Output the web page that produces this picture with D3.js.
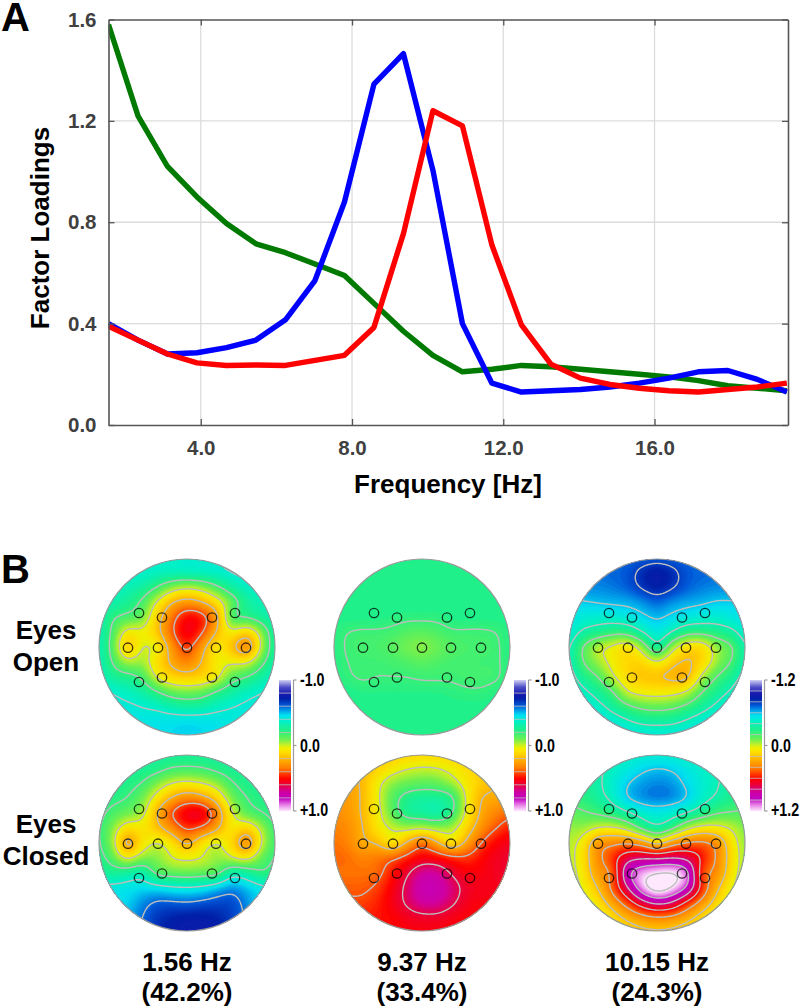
<!DOCTYPE html>
<html><head><meta charset="utf-8">
<script src="https://d3js.org/d3.v7.min.js"></script>
<style>html,body{margin:0;padding:0;background:#fff}svg{display:block}text{font-family:"Liberation Sans",Arial,sans-serif;font-weight:bold}</style>
</head><body><svg id="c" width="800" height="1008"></svg>
<script>
const frequencies=[1.56,2.34,3.12,3.9,4.68,5.46,6.24,7.02,7.8,8.58,9.36,10.14,10.92,11.7,12.48,13.26,14.04,14.82,15.6,16.38,17.16,17.94,18.72,19.5];
const greenSeries=[1.58,1.22,1.02,.9,.795,.715,.68,.635,.59,.48,.37,.275,.21,.22,.235,.23,.22,.21,.2,.19,.175,.155,.145,.135];
const blueSeries=[.40,.335,.28,.285,.305,.335,.415,.57,.88,1.345,1.465,1.005,.40,.165,.13,.135,.14,.15,.165,.185,.21,.215,.18,.13];
const redSeries=[.39,.335,.28,.245,.235,.237,.235,.255,.275,.385,.755,1.24,1.18,.71,.395,.24,.185,.16,.145,.135,.13,.14,.15,.165];
const xTicks=[4,8,12,16], yTicks=[0,.4,.8,1.2,1.6];
const colorStops=[-1,-.9,-.8,-.72,-.62,-.55,-.47,-.38,-.24,-.1,-.03,.03,.1,.2,.33,.42,.5,.6,.7,.8,.9,1];
const colorValues=["#c8c8f0","#5050c8","#1818b0","#0020a8","#0058d8","#0098e8","#00e0f0","#00f0c8","#20f088","#70f050","#b8f030","#f0f000","#ffdc00","#ffb400","#ff8000","#ff4000","#ff0000","#e80040","#d000a0","#c000c0","#e880e8","#fff0ff"];
// loadings x100 on a 13x13 scalp grid
const eo156=[
[-36,-36,-36,-37,-38,-38,-38,-38,-38,-40,-42,-42,-42],
[-42,-41,-40,-39,-37,-36,-37,-38,-39,-41,-43,-44,-44],
[-42,-38,-34,-30,-20,-8,-3,-7,-18,-30,-37,-41,-44],
[-38,-33,-27,-18,1,19,26,20,7,-12,-28,-34,-38],
[-36,-22,-17,-12,13,34,50,46,24,-18,-22,-29,-36],
[-36,-18,5,3,15,38,54,42,18,3,12,-8,-34],
[-36,-16,16,-1,3,27,44,25,6,17,32,-4,-32],
[-37,-20,-4,-6,9,23,32,19,4,2,2,-16,-35],
[-39,-28,-25,-18,2,11,14,11,4,-14,-20,-30,-39],
[-42,-40,-36,-31,-21,-12,-10,-12,-22,-30,-36,-40,-42],
[-43,-42,-42,-40,-38,-33,-30,-32,-37,-40,-42,-43,-43],
[-43,-43,-44,-44,-45,-46,-47,-46,-45,-43,-43,-43,-43],
[-43,-43,-44,-44,-46,-47,-48,-47,-46,-44,-43,-43,-43]];
const ec156=[
[-28,-28,-28,-28,-28,-28,-28,-28,-28,-28,-28,-28,-28],
[-28,-28,-28,-27,-25,-20,-19,-20,-24,-27,-28,-28,-28],
[-28,-27,-24,-20,-9,0,3,0,-7,-19,-25,-27,-28],
[-25,-23,-20,-11,6,21,30,25,12,-10,-20,-24,-26],
[-24,-17,-11,-5,20,41,54,56,31,1,-14,-20,-25],
[-23,-9,8,6,16,29,43,37,23,5,12,-5,-22],
[-23,-7,27,7,-1,7,23,7,-1,11,31,-1,-20],
[-25,-15,3,-8,-8,0,2,0,-7,-1,4,-13,-22],
[-30,-27,-30,-34,-16,-13,-11,-13,-15,-34,-30,-21,-26],
[-44,-44,-45,-47,-46,-43,-42,-44,-50,-56,-50,-44,-42],
[-46,-46,-48,-56,-62,-62,-61,-63,-65,-65,-56,-46,-42],
[-46,-48,-52,-60,-68,-72,-74,-74,-72,-66,-58,-48,-42],
[-46,-48,-54,-62,-70,-74,-76,-76,-74,-68,-60,-48,-42]];
const eo937=[
[-24,-24,-24,-24,-24,-24,-24,-24,-24,-24,-24,-24,-24],
[-24,-24,-24,-24,-24,-24,-24,-24,-24,-24,-24,-24,-24],
[-24,-24,-24,-24,-24,-24,-24,-24,-24,-24,-24,-24,-24],
[-24,-24,-24,-24,-24,-24,-24,-24,-24,-24,-24,-24,-24],
[-24,-24,-24,-24,-23,-22,-22,-22,-24,-24,-24,-24,-24],
[-23,-20,-19,-19,-18,-15,-14,-16,-19,-19,-19,-20,-24],
[-24,-19,-18,-17,-14,-10,-7,-11,-15,-17,-18,-19,-24],
[-24,-20,-19,-19,-18,-16,-14,-16,-18,-18,-19,-19,-24],
[-24,-21,-19,-20,-20,-20,-19,-19,-19,-18,-18,-19,-24],
[-24,-24,-23,-23,-23,-23,-23,-23,-22,-21,-21,-23,-24],
[-24,-24,-24,-24,-24,-24,-24,-24,-24,-24,-24,-24,-24],
[-24,-24,-24,-24,-24,-24,-24,-24,-24,-24,-24,-24,-24],
[-24,-24,-24,-24,-24,-24,-24,-24,-24,-24,-24,-24,-24]];
const ec937=[
[20,20,18,17,15,13,12,12,13,14,15,17,20],
[22,22,18,13,6,1,-1,0,4,10,14,18,22],
[26,24,19,4,-7,-11,-13,-12,-5,6,14,20,24],
[28,26,19,3,-14,-25,-28,-28,-23,3,21,22,28],
[30,27,19,5,-13,-26,-29,-32,-22,4,23,32,37],
[32,30,21,7,-1,-4,-2,-6,-4,12,29,40,47],
[35,32,22,19,6,22,36,22,7,24,41,51,55],
[37,36,32,34,38,45,52,50,45,43,50,55,57],
[35,35,35,36,47,58,70,70,58,52,52,55,57],
[38,38,38,42,52,63,75,76,66,56,54,54,54],
[42,42,42,46,53,62,70,70,62,54,52,52,52],
[46,46,46,48,50,54,56,56,53,51,50,50,50],
[48,48,48,49,50,52,52,52,52,50,49,49,49]];
const eo1015=[
[-70,-70,-70,-71,-72,-72,-73,-72,-72,-71,-70,-70,-70],
[-70,-70,-71,-73,-75,-84,-90,-84,-75,-73,-71,-70,-70],
[-68,-68,-68,-70,-74,-82,-88,-82,-74,-70,-68,-68,-68],
[-59,-59,-61,-62,-63,-67,-73,-67,-64,-62,-59,-59,-59],
[-55,-50,-48,-49,-51,-57,-62,-57,-52,-49,-48,-52,-56],
[-52,-38,-32,-26,-27,-40,-52,-40,-27,-26,-30,-36,-50],
[-45,-20,-4,3,10,-7,-37,-7,11,11,-8,-18,-42],
[-46,-21,-8,4,13,13,1,15,22,13,-8,-21,-42],
[-50,-32,-21,-3,12,19,20,24,24,-4,-21,-32,-48],
[-57,-45,-34,-22,-1,5,6,5,-2,-20,-32,-43,-55],
[-65,-55,-46,-35,-24,-17,-15,-17,-24,-34,-44,-55,-62],
[-68,-62,-56,-50,-43,-37,-36,-37,-43,-50,-56,-62,-68],
[-70,-66,-62,-58,-55,-53,-52,-53,-55,-58,-62,-66,-70]];
const ec1015=[
[-30,-30,-34,-40,-44,-46,-47,-46,-44,-42,-36,-30,-30],
[-30,-30,-36,-44,-50,-57,-60,-58,-52,-46,-42,-34,-30],
[-28,-30,-37,-47,-59,-65,-68,-66,-57,-48,-41,-34,-30],
[-24,-27,-34,-44,-60,-67,-70,-68,-60,-46,-38,-30,-25],
[-14,-18,-22,-28,-37,-47,-51,-47,-40,-30,-21,-19,-18],
[-8,-8,0,2,-6,-25,-37,-25,-4,6,5,-2,-12],
[-6,5,32,36,39,32,13,32,42,44,35,8,-10],
[-6,8,34,52,72,78,78,80,75,58,38,10,-8],
[-8,6,30,42,95,113,120,122,108,48,35,8,-10],
[-15,2,19,44,78,112,130,120,98,54,23,2,-14],
[-22,-8,8,27,48,71,84,77,54,32,12,-3,-20],
[-30,-18,-4,10,23,32,37,34,25,12,0,-14,-28],
[-35,-25,-12,0,10,15,16,15,10,0,-10,-20,-32]];
const panelGrids=[eo156,eo937,eo1015,ec156,ec937,ec1015];
const panelScale=[1,1,1.2,1,1,1.2];
const panelCx=[187,422,657,187,422,657];
const panelCy=[647,647,647,843,843,843];
const electrodeX=[-48,-25,25,48,-59,-29,0,29,59,-48,-25,25,48];
const electrodeY=[-34,-29.5,-29.5,-34,.7,.7,.7,.7,.7,35,30.5,30.5,35];
const barX=[279,514,750], barMax=[1,1,1.2];
const barTop=["-1.0","-1.0","-1.2"], barBottom=["+1.0","+1.0","+1.2"];
const freqLabels=["1.56 Hz","9.37 Hz","10.15 Hz"], pctLabels=["(42.2%)","(33.4%)","(24.3%)"];

const svg=d3.select("#c");
const color=d3.scaleLinear().domain(colorStops).range(colorValues).clamp(true);
const defs=svg.append("defs");
// ---- panel A
const x=d3.scaleLinear().domain([1.56,19.53]).range([108.5,788]);
const y=d3.scaleLinear().domain([0,1.6]).range([425,19.5]);
defs.append("clipPath").attr("id","plot").append("rect").attr("x",x.range()[0]).attr("y",y.range()[1]).attr("width",x.range()[1]-x.range()[0]).attr("height",y.range()[0]-y.range()[1]);
const A=svg.append("g");
A.append("g").selectAll("line").data(xTicks).join("line").attr("x1",d=>x(d)).attr("x2",d=>x(d)).attr("y1",y(0)).attr("y2",y(1.6)).attr("stroke","#dcdcdc").attr("stroke-width",1.3);
A.append("g").selectAll("line").data(yTicks.slice(1,4)).join("line").attr("y1",d=>y(d)).attr("y2",d=>y(d)).attr("x1",x.range()[0]).attr("x2",x.range()[1]).attr("stroke","#dcdcdc").attr("stroke-width",1.3);
const lineGen=d3.line().x((d,i)=>x(frequencies[i])).y(d=>y(d));
[[greenSeries,"#007a00"],[blueSeries,"#0000ff"],[redSeries,"#ff0000"]].forEach(([s,c])=>{
  A.append("path").attr("d",lineGen(s)).attr("fill","none").attr("stroke",c).attr("stroke-width",5.4).attr("stroke-linejoin","round").attr("clip-path","url(#plot)");
});
function styleAxis(g,labels){
  g.selectAll(".domain").attr("stroke","#555").attr("stroke-width",1.6);
  g.selectAll(".tick line").attr("stroke","#555").attr("stroke-width",1.3);
  g.selectAll("text").attr("fill",labels?"#404040":"none").style("font-size","20.5px").style("font-family",'"Liberation Sans",Arial,sans-serif').style("font-weight","bold");
}
const fmt=d3.format(".1f");
A.append("g").attr("transform",`translate(0,${y(0)})`).call(d3.axisBottom(x).tickValues(xTicks).tickSize(-6).tickSizeOuter(0).tickPadding(15).tickFormat(fmt)).call(g=>styleAxis(g,true));
A.append("g").attr("transform",`translate(0,${y(1.6)})`).call(d3.axisTop(x).tickValues(xTicks).tickSize(-6).tickSizeOuter(0).tickFormat("")).call(g=>styleAxis(g,false));
A.append("g").attr("transform",`translate(${x.range()[0]},0)`).call(d3.axisLeft(y).tickValues(yTicks).tickSize(-6).tickSizeOuter(0).tickPadding(12).tickFormat(fmt)).call(g=>styleAxis(g,true));
A.append("g").attr("transform",`translate(${x.range()[1]},0)`).call(d3.axisRight(y).tickValues(yTicks).tickSize(-6).tickSizeOuter(0).tickFormat("")).call(g=>styleAxis(g,false));
A.append("text").attr("x",448).attr("y",493).attr("text-anchor","middle").style("font-size","26px").text("Frequency [Hz]");
A.append("text").attr("transform","translate(49,228) rotate(-90)").attr("text-anchor","middle").style("font-size","26px").text("Factor Loadings");
svg.append("text").attr("x",1).attr("y",31).style("font-size","40px").text("A");
svg.append("text").attr("x",1).attr("y",583).style("font-size","40px").text("B");
// ---- panel B
function catmull(p0,p1,p2,p3,t){return .5*((2*p1)+(-p0+p2)*t+(2*p0-5*p1+4*p2-p3)*t*t+(-p0+3*p1-3*p2+p3)*t*t*t);}
function upsample(grid,f){
  const n=grid.length, size=(n-1)*f+1, out=new Float64Array(size*size);
  const at=(r,c)=>grid[Math.max(0,Math.min(n-1,r))][Math.max(0,Math.min(n-1,c))]/100;
  for(let j=0;j<size;j++){const r=Math.min(n-2,Math.floor(j/f)),tr=j/f-r;
    for(let i=0;i<size;i++){const c=Math.min(n-2,Math.floor(i/f)),tc=i/f-c;
      const v=[-1,0,1,2].map(dr=>catmull(at(r+dr,c-1),at(r+dr,c),at(r+dr,c+1),at(r+dr,c+2),tc));
      out[j*size+i]=catmull(v[0],v[1],v[2],v[3],tr);
    }}
  d3.blur2({data:out,width:size,height:size},4);
  return {values:out,size};
}
const gridStep=15, R=88, path=d3.geoPath();
panelGrids.forEach((grid,k)=>{
  const cx=panelCx[k],cy=panelCy[k],m=panelScale[k];
  defs.append("clipPath").attr("id","head"+k).append("circle").attr("cx",cx).attr("cy",cy).attr("r",R);
  const up=upsample(grid,gridStep);
  const half=(grid.length-1)*gridStep/2;
  const g=svg.append("g").attr("clip-path",`url(#head${k})`);
  const inner=g.append("g").attr("transform",`translate(${cx-half-.5},${cy-half-.5})`);
  const bands=d3.range(-70,70).map(i=>i/70*m);
  inner.append("rect").attr("x",-2).attr("y",-2).attr("width",up.size+4).attr("height",up.size+4).attr("fill",color(d3.min(up.values)/m));
  const ext=d3.extent(up.values);
  const contours=d3.contours().size([up.size,up.size]).smooth(true);
  bands.filter(t=>t>ext[0]&&t<ext[1]).forEach(t=>{
    inner.append("path").attr("d",path(contours.contour(up.values,t))).attr("fill",color((t+m/140)/m)).attr("stroke",color((t+m/140)/m)).attr("stroke-width",.3);
  });
  d3.range(-6,7).map(i=>i/5).filter(t=>t>ext[0]&&t<ext[1]).forEach(t=>{
    inner.append("path").attr("d",path(contours.contour(up.values,t))).attr("fill","none").attr("stroke","#bdbdbd").attr("stroke-width",1.4);
  });
  svg.append("circle").attr("cx",cx).attr("cy",cy).attr("r",R).attr("fill","none").attr("stroke","#9a9a9a").attr("stroke-width",1.2);
  svg.append("g").selectAll("circle").data(electrodeX).join("circle").attr("cx",d=>cx+d).attr("cy",(d,i)=>cy+electrodeY[i]).attr("r",4.7).attr("fill","none").attr("stroke","#000").attr("stroke-opacity",.75).attr("stroke-width",1.3);
});
barX.forEach((bx,k)=>{
  const m=barMax[k], by=d3.scaleLinear().domain([-m,m]).range([680,811]);
  const vals=d3.range(0,131).map(i=>by.invert(680+i));
  const g=svg.append("g");
  g.selectAll("rect").data(vals).join("rect").attr("x",bx).attr("width",12).attr("y",d=>by(d)).attr("height",1.2).attr("fill",d=>color(d/m));
  const lv=d3.range(-12,13).map(i=>i/5).filter(t=>Math.abs(t)<m-.01&&Math.abs(t)>0);
  g.selectAll("line.l").data(lv).join("line").attr("x1",bx).attr("x2",bx+12).attr("y1",d=>by(d)).attr("y2",d=>by(d)).attr("stroke","#c0c0c0").attr("stroke-width",.8);
  const ax=bx+14.5;
  g.append("line").attr("x1",ax).attr("x2",ax).attr("y1",680).attr("y2",811).attr("stroke","#9a9a9a").attr("stroke-width",1.2);
  [-m,0,m].forEach(t=>g.append("line").attr("x1",ax).attr("x2",ax+3).attr("y1",by(t)).attr("y2",by(t)).attr("stroke","#9a9a9a").attr("stroke-width",1.2));
  [barTop[k],"0.0",barBottom[k]].forEach((s,i)=>g.append("text").attr("transform",`translate(${bx+21},${[686,752,816][i]}) scale(.75,1)`).attr("fill","#000").style("font-size","19px").text(s));
});
[["Eyes",639],["Open",671],["Eyes",833],["Closed",865]].forEach(([s,yy])=>{
  svg.append("text").attr("x",46).attr("y",yy).attr("text-anchor","middle").style("font-size","26px").text(s);
});
freqLabels.forEach((s,i)=>{
  svg.append("text").attr("x",panelCx[i]).attr("y",971).attr("text-anchor","middle").style("font-size","26px").text(s);
  svg.append("text").attr("x",panelCx[i]).attr("y",1001).attr("text-anchor","middle").style("font-size","26px").text(pctLabels[i]);
});
</script></body></html>
